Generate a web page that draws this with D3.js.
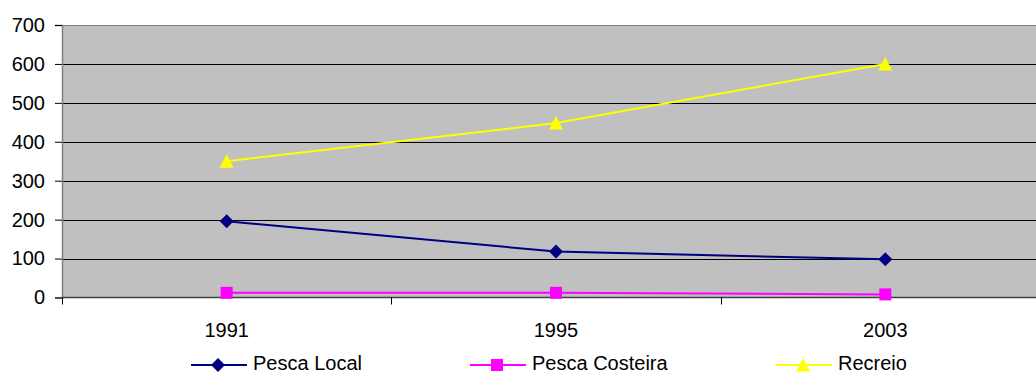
<!DOCTYPE html>
<html><head><meta charset="utf-8">
<script src="https://cdn.jsdelivr.net/npm/d3@7"></script>
<style>body{margin:0;background:#fff}svg{display:block}text{font-family:"Liberation Sans",Arial,sans-serif}</style>
</head><body><svg id="c" width="1036" height="374"></svg>
<script>
const categories = ["1991","1995","2003"];
const pescaLocal = [196, 118, 98];
const pescaCosteira = [12, 12, 8];
const recreio = [350, 448, 600];
const yTicks = [0,100,200,300,400,500,600,700];
const seriesNames = ["Pesca Local","Pesca Costeira","Recreio"];

const svg = d3.select("#c");
const L = 62, R = 1050, T = 25, B = 297.5;
const x = d3.scaleBand().domain(categories).range([L, R]);
const y = d3.scaleLinear().domain([0, 700]).range([B, T]);

svg.append("rect").attr("x", L).attr("y", T).attr("width", R - L).attr("height", B - T).attr("fill", "#c0c0c0");
svg.append("g").selectAll("line").data(yTicks.filter(d => d > 0)).join("line")
  .attr("x1", L).attr("x2", R).attr("y1", d => Math.round(y(d)) + 0.5).attr("y2", d => Math.round(y(d)) + 0.5)
  .attr("stroke", "#000").attr("stroke-width", 1);
svg.append("line").attr("x1", L).attr("x2", R).attr("y1", T + 0.5).attr("y2", T + 0.5).attr("stroke", "#808080");

const ya = d3.axisLeft(y).tickValues(yTicks).tickSize(7).tickPadding(10);
const gy = svg.append("g").attr("transform", `translate(${L},0)`).call(ya);
gy.select(".domain").attr("stroke", "#808080").attr("stroke-width", 1.5);
gy.selectAll(".tick line").attr("stroke", "#000");
gy.selectAll("text").attr("font-size", 20).attr("fill", "#000").attr("font-family", "Liberation Sans, Arial, sans-serif");

const xb = d3.scaleLinear().domain([0, 3]).range([L, R]);
const gx = svg.append("g");
gx.append("line").attr("x1", L).attr("x2", R).attr("y1", B).attr("y2", B).attr("stroke", "#404040").attr("stroke-width", 1.5);
gx.selectAll("line.t").data([0,1,2,3]).join("line").attr("class","t")
  .attr("x1", d => Math.round(xb(d)) + 0.5).attr("x2", d => Math.round(xb(d)) + 0.5)
  .attr("y1", B).attr("y2", B + 7).attr("stroke", "#000");
gx.selectAll("text").data(categories).join("text")
  .attr("x", d => x(d) + x.bandwidth() / 2).attr("y", 337)
  .attr("text-anchor", "middle").attr("font-size", 20).attr("fill", "#000").text(d => d);

const cx = d => x(d) + x.bandwidth() / 2;
const colors = ["#000080", "#ff00ff", "#ffff00"];
const data = [pescaLocal, pescaCosteira, recreio];
const shapes = [
  "M0,-7L7,0L0,7L-7,0Z",
  "M-6,-6H6V6H-6Z",
  "M0,-7L7,6.5H-7Z"
];

data.forEach((vals, i) => {
  const line = d3.line().x((d, j) => cx(categories[j])).y(d => y(d));
  svg.append("path").datum(vals).attr("d", line).attr("fill", "none").attr("stroke", colors[i]).attr("stroke-width", 2);
  svg.append("g").selectAll("path").data(vals).join("path")
    .attr("transform", (d, j) => `translate(${cx(categories[j])},${y(d)})`)
    .attr("d", shapes[i]).attr("fill", colors[i]);
});

const legX = [191, 470, 776];
const legY = 365;
seriesNames.forEach((n, i) => {
  const g = svg.append("g");
  g.append("line").attr("x1", legX[i]).attr("x2", legX[i] + 56).attr("y1", legY).attr("y2", legY).attr("stroke", colors[i]).attr("stroke-width", 2);
  g.append("path").attr("transform", `translate(${legX[i] + 27},${legY})`).attr("d", shapes[i]).attr("fill", colors[i]);
  g.append("text").attr("x", legX[i] + 62).attr("y", 369.5).attr("font-size", 20).attr("fill", "#000").text(n);
});
</script></body></html>
